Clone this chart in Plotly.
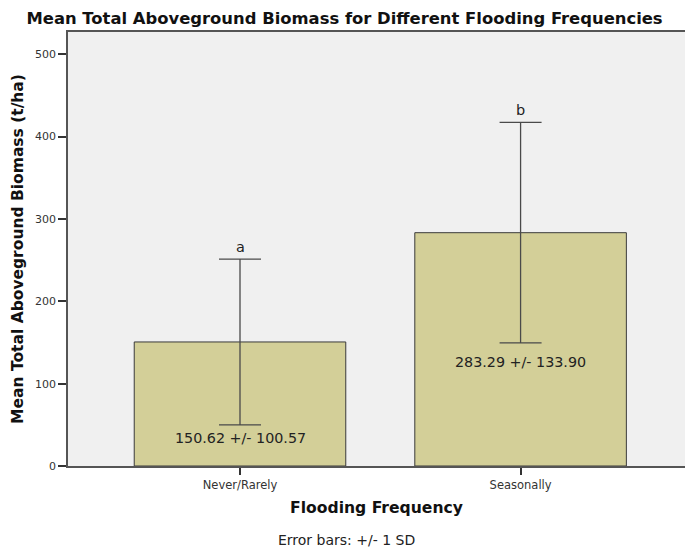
import plotly.graph_objects as go

categories = ["Never/Rarely", "Seasonally"]
means = [150.62, 283.29]
sds = [100.57, 133.90]
letters = ["a", "b"]
y_ticks = [0, 100, 200, 300, 400, 500]

font_family = "DejaVu Sans"
label_shifts = [-3, -9]

fig = go.Figure()
fig.add_trace(go.Bar(
    x=categories,
    y=means,
    width=0.754,
    marker=dict(color="#d3cf98", line=dict(color="#3a3a3a", width=1)),
    error_y=dict(type="data", array=sds, visible=True, color="#4a4a4a",
                 thickness=1.3, width=21),
    hoverinfo="skip",
))

for cat, m, s, let, sh in zip(categories, means, sds, letters, label_shifts):
    fig.add_annotation(x=cat, y=m + s, text=let, showarrow=False,
                       yanchor="bottom", yshift=2,
                       font=dict(family=font_family, size=14.5, color="#222"))
    fig.add_annotation(x=cat, y=m - s, text=f"{m:.2f} +/- {s:.2f}", showarrow=False,
                       yanchor="top", yshift=sh,
                       font=dict(family=font_family, size=14.3, color="#222"))

fig.add_annotation(xref="paper", yref="paper", x=0.4506, y=-0.1705,
                   text="Error bars: +/- 1 SD", showarrow=False,
                   xanchor="center", yanchor="middle",
                   font=dict(family=font_family, size=14, color="#222"))

fig.update_layout(
    width=685, height=547,
    margin=dict(l=68, r=0, t=32, b=81),
    paper_bgcolor="white",
    plot_bgcolor="#f0f0f0",
    showlegend=False,
    title=dict(text="<b>Mean Total Aboveground Biomass for Different Flooding Frequencies</b>",
               x=0.503, xanchor="center", y=1 - 18 / 547, yanchor="middle",
               font=dict(family=font_family, size=16.4, color="#111")),
    xaxis=dict(
        range=[-0.613, 1.586],
        showgrid=False, zeroline=False,
        showline=True, mirror=True, linecolor="#555", linewidth=1.5,
        ticks="outside", ticklen=7, tickcolor="#333", tickwidth=1.5,
        tickfont=dict(family=font_family, size=11.5, color="#333"),
        title=dict(text="<b>Flooding Frequency</b>", standoff=12,
                   font=dict(family=font_family, size=15.6, color="#111")),
    ),
    yaxis=dict(
        range=[0, 527],
        tickvals=y_ticks,
        showgrid=False, zeroline=False,
        showline=True, mirror=False, linecolor="#555", linewidth=1.5,
        ticks="outside", ticklen=8, tickcolor="#333", tickwidth=1.5,
        tickfont=dict(family=font_family, size=11, color="#333"),
        title=dict(text="<b>Mean Total Aboveground Biomass (t/ha)</b>", standoff=8,
                   font=dict(family=font_family, size=15.5, color="#111")),
    ),
)

fig.write_html("out.html")
